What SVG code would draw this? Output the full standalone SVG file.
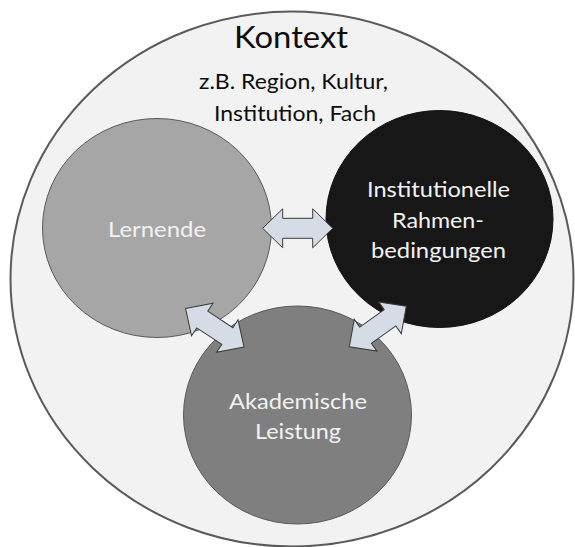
<svg xmlns="http://www.w3.org/2000/svg" width="575" height="547" viewBox="0 0 575 547">
  <defs>
    <style>
      .lbl { font-family: Lato, "Open Sans", "Liberation Sans", sans-serif; text-anchor: middle; }
      .dark { fill: #0d0d0d; }
      .light { fill: #f2f2f2; }
      .node { stroke: #595959; stroke-width: 1; }
      .arrow { fill: #d6dce5; stroke: #3a3a3a; stroke-width: 1; stroke-linejoin: miter; }
    </style>
    <!-- double-headed block arrow, centred on the origin, pointing along x -->
    <path id="dblArrow" d="M -35 0 L -15 -19.5 L -15 -10 L 15 -10 L 15 -19.5 L 35 0 L 15 19.5 L 15 10 L -15 10 L -15 19.5 Z"/>
  </defs>

  <rect width="575" height="547" fill="#ffffff"/>

  <!-- surrounding context -->
  <g id="kontext">
    <ellipse cx="292" cy="279" rx="281.5" ry="267.5" fill="#f2f2f2" stroke="#5a5a5a" stroke-width="2"/>
    <text class="lbl dark" x="291" y="48" font-size="30" textLength="114" lengthAdjust="spacingAndGlyphs">Kontext</text>
    <text class="lbl dark" x="293.5" y="89" font-size="21" textLength="189" lengthAdjust="spacingAndGlyphs">z.B. Region, Kultur,</text>
    <text class="lbl dark" x="295" y="120.5" font-size="21" textLength="162" lengthAdjust="spacingAndGlyphs">Institution, Fach</text>
  </g>

  <g id="lernende">
    <ellipse class="node" cx="157" cy="228" rx="114.5" ry="109.5" fill="#a6a6a6"/>
    <text class="lbl light" x="157" y="237" font-size="21" textLength="98" lengthAdjust="spacingAndGlyphs">Lernende</text>
  </g>

  <g id="rahmenbedingungen">
    <ellipse cx="439.5" cy="219" rx="113.5" ry="108.5" fill="#171717" stroke="#111111" stroke-width="1"/>
    <text class="lbl light" x="438.5" y="197" font-size="21" textLength="143" lengthAdjust="spacingAndGlyphs">Institutionelle</text>
    <text class="lbl light" x="438" y="227.5" font-size="21" textLength="92" lengthAdjust="spacingAndGlyphs">Rahmen-</text>
    <text class="lbl light" x="438.5" y="257.5" font-size="21" textLength="135" lengthAdjust="spacingAndGlyphs">bedingungen</text>
  </g>

  <g id="leistung">
    <ellipse class="node" cx="297.5" cy="415" rx="114" ry="109" fill="#7f7f7f"/>
    <text class="lbl light" x="298" y="409" font-size="21" textLength="138" lengthAdjust="spacingAndGlyphs">Akademische</text>
    <text class="lbl light" x="298" y="439" font-size="21" textLength="86" lengthAdjust="spacingAndGlyphs">Leistung</text>
  </g>

  <!-- two-way relations between the three circles -->
  <g id="connectors">
    <use href="#dblArrow" class="arrow" transform="translate(297.7 228.3)"/>
    <use href="#dblArrow" class="arrow" transform="translate(214.8 327.8) rotate(33.4)"/>
    <use href="#dblArrow" class="arrow" transform="translate(377.8 326.5) rotate(-35.5)"/>
  </g>
</svg>
